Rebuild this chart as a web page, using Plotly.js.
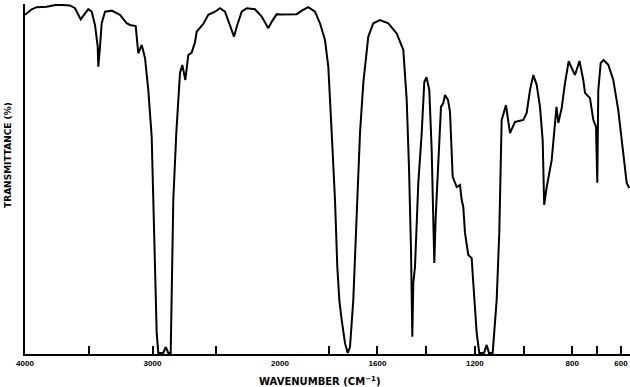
<!DOCTYPE html>
<html>
<head>
<meta charset="utf-8">
<script src="https://cdn.plot.ly/plotly-3.0.1.min.js"></script>
<style>html,body{margin:0;padding:0;background:#fff;}#chart{width:630px;height:387px;}</style>
</head>
<body>
<div id="chart"></div>
<script>
// Wavenumber (cm-1) and transmittance (%), 4000-2000 cm-1 section
var wnHigh = [4000,3947.5,3908.2,3829.8,3751.4,3647.1,3607.8,3563.1,3537.3,3503.5,3476.9,3451.0,3429.8,3425.1,3411.8,3398.4,3372.5,3320.0,3254.9,3202.4,3176.5,3131.8,3111.4,3084.7,3058.8,3032.9,3006.3,2993.7,2980.4,2967.1,2954.5,2915.3,2896.5,2876.1,2857.3,2849.4,2836.9,2813.4,2784.3,2766.3,2742.7,2719.2,2692.6,2666.7,2653.3,2601.6,2562.4,2509.8,2470.6,2431.4,2392.2,2360.8,2334.9,2300.4,2261.2,2196.1,2143.5,2091.8,2065.1,2025.9,2000];
var tHigh  = [96.9,98.5,99.1,99.2,99.8,99.6,98.8,95.6,96.9,98.5,97.8,94.0,87.8,82.1,87.8,94.5,97.8,98.1,96.9,94.5,94.0,93.7,85.9,88.3,84.6,75.4,62.0,44.0,24.9,6.0,0.3,0.3,2.0,0.3,0.3,15.4,44.0,63.1,80.3,82.6,78.3,85.4,86.1,89.1,92.1,94.3,96.9,97.8,98.8,97.8,94.0,90.7,94.0,97.8,98.8,98.5,96.4,93.1,94.9,97.1,97.0];
// 2000-560 cm-1 section
var wnLow = [2000,1972.5,1931.4,1910.9,1883.8,1856.3,1835.8,1815.3,1801.7,1787.7,1774.2,1764.7,1756.5,1746.7,1733.1,1722.0,1712.6,1699.1,1685.1,1671.6,1658.0,1637.5,1616.9,1589.4,1555.4,1520.9,1493.8,1479.8,1470.4,1462.1,1456.8,1452.7,1445.7,1432.2,1418.2,1407.6,1398.5,1387.0,1377.2,1370.6,1366.5,1360.8,1350.1,1339.0,1329.6,1322.6,1310.3,1302.0,1291.0,1274.5,1261.0,1254.0,1247.5,1240.5,1226.9,1213.0,1206.4,1192.5,1181.8,1162.5,1151.4,1142.0,1126.8,1110.4,1099.7,1089.9,1072.2,1055.7,1035.2,1001.1,987.2,973.6,960.0,946.1,932.5,921.5,915.3,905.0,884.5,871.0,864.8,857.4,843.4,829.9,814.7,802.4,788.8,770.4,754.8,747.8,727.3,713.7,702.6,697.3,693.2,683.4,671.8,652.1,631.6,611.1,590.6,576.6,565.9];
var tLow  = [97.0,97.0,97.1,98.1,99.1,97.8,94.5,89.7,82.1,63.1,44.0,24.9,15.4,9.7,3.1,0.3,2.0,15.4,39.1,63.1,77.4,90.7,94.5,95.4,94.5,91.6,86.9,72.6,53.4,29.7,4.9,20.3,24.9,48.9,63.1,77.7,79.1,75.4,58.3,39.1,26.0,39.1,53.4,70.6,71.7,74.0,72.6,69.1,50.6,47.7,48.3,44.0,42.0,34.6,28.3,27.4,20.3,6.0,0.3,0.3,2.6,0.3,0.3,15.4,34.6,66.9,71.1,63.1,66.3,66.9,68.9,75.4,79.7,76.9,70.6,61.1,42.6,47.7,55.4,67.7,70.6,66.0,70.3,77.4,83.7,81.7,79.7,83.7,78.3,74.6,73.1,66.9,64.9,48.9,75.4,83.1,84.0,82.6,78.3,69.7,58.3,48.9,47.4];

// Labelled ticks and unlabelled tick marks
var ticksHigh = [4000,3000,2000];
var minorHigh = [3500,2500];
var ticksLow = [1600,1200,800,600];
var minorLow = [1800,1400,1000,700];

var xTitle = 'WAVENUMBER (CM<sup>−1</sup>)';
var yTitle = 'TRANSMITTANCE (%)';

var lineStyle = {color:'#000', width:2};
var traces = [
  {x: wnHigh, y: tHigh, type:'scatter', mode:'lines', line: lineStyle, xaxis:'x', yaxis:'y', hoverinfo:'skip'},
  {x: wnLow, y: tLow, type:'scatter', mode:'lines', line: lineStyle, xaxis:'x2', yaxis:'y', hoverinfo:'skip'}
];

var tickFont = {family:'Liberation Sans, Arial, sans-serif', size:8, color:'#000', weight:'bold'};
var axisCommon = {
  showline:true, linecolor:'#000', linewidth:2, showgrid:false, zeroline:false,
  ticks:'inside', ticklen:8, tickwidth:2, tickcolor:'#000', tickfont:tickFont,
  tickmode:'array', fixedrange:true
};
var minorCommon = {ticks:'inside', ticklen:8, tickwidth:2, tickcolor:'#000', tickmode:'array', showgrid:false};

var split = 255/605;
var layout = {
  width:630, height:387,
  margin:{l:25, r:0, t:4, b:33},
  paper_bgcolor:'#fff', plot_bgcolor:'#fff',
  showlegend:false,
  xaxis: Object.assign({}, axisCommon, {domain:[0, split], range:[4000, 2000], tickvals:ticksHigh,
    minor:Object.assign({}, minorCommon, {tickvals:minorHigh}), anchor:'y'}),
  xaxis2: Object.assign({}, axisCommon, {domain:[split, 1], range:[2000, 563], tickvals:ticksLow,
    minor:Object.assign({}, minorCommon, {tickvals:minorLow}), anchor:'y'}),
  yaxis: {range:[0,100], showline:true, linecolor:'#000', linewidth:2, showgrid:false, zeroline:false, showticklabels:false, ticks:'', fixedrange:true},
  annotations:[
    {text:xTitle, xref:'paper', yref:'paper', x:0.4876, y:-0.077, showarrow:false, xanchor:'center', yanchor:'middle',
     font:{family:'DejaVu Sans, sans-serif', size:10, color:'#000', weight:'bold'}},
    {text:yTitle, xref:'paper', yref:'paper', x:-0.028, y:0.569, showarrow:false, xanchor:'center', yanchor:'middle', textangle:-90,
     font:{family:'DejaVu Sans, sans-serif', size:9, color:'#000', weight:'bold'}}
  ]
};

Plotly.newPlot('chart', traces, layout, {staticPlot:true, displayModeBar:false});
</script>
</body>
</html>
